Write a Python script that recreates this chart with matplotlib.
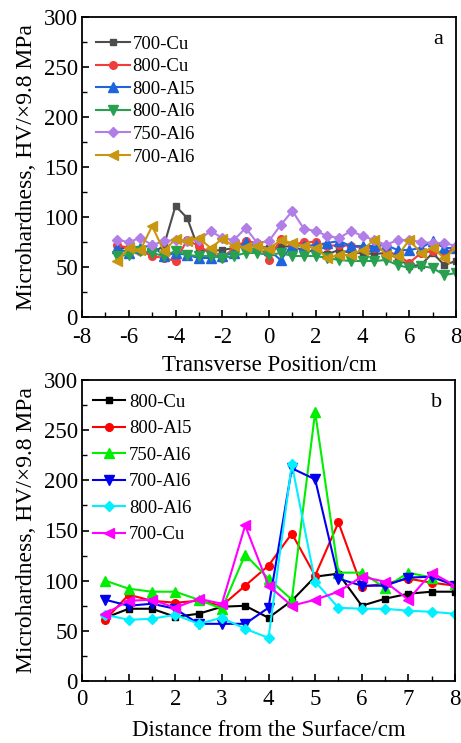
import matplotlib
matplotlib.use("Agg")
import matplotlib.pyplot as plt
from matplotlib.ticker import MultipleLocator

plt.rcParams['font.family'] = ['Liberation Serif', 'DejaVu Serif']
plt.rcParams['axes.unicode_minus'] = False

# ---- panel a data ----
x_a = [-6.5, -6, -5.5, -5, -4.5, -4, -3.5, -3, -2.5, -2, -1.5, -1, -0.5, 0, 0.5,
       1, 1.5, 2, 2.5, 3, 3.5, 4, 4.5, 5, 5.5, 6, 6.5, 7, 7.5, 8]
a_700Cu = [69, 69, 66, 64, 71, 111, 99, 67, 66, 67, 69, 71, 71, 69, 70,
           71, 66, 66, 63, 67, 64, 64, 63, 64, 59, 51, 52, 64, 52, 56]
a_800Cu = [72, 69, 66, 61, 59, 56, 77, 71, 64, 59, 69, 76, 74, 57, 78,
           72, 75, 75, 71, 72, 71, 69, 69, 66, 62, 54, 64, 66, 64, 69]
a_800Al5 = [69, 64, 69, 72, 61, 64, 62, 59, 59, 61, 64, 75, 71, 67, 57,
            72, 71, 72, 74, 76, 71, 71, 71, 72, 67, 67, 69, 76, 69, 69]
a_800Al6 = [61, 62, 66, 64, 61, 66, 62, 61, 61, 59, 61, 64, 64, 62, 64,
            61, 61, 61, 59, 57, 56, 56, 56, 57, 52, 49, 51, 49, 42, 44]
a_750Al6 = [77, 75, 79, 72, 76, 77, 76, 77, 86, 79, 77, 89, 74, 76, 92,
            106, 88, 86, 81, 79, 86, 81, 77, 72, 77, 77, 75, 74, 74, 71]
a_700Al6 = [56, 69, 67, 91, 66, 78, 76, 79, 69, 78, 71, 70, 71, 68, 77,
            74, 71, 69, 59, 62, 62, 67, 77, 62, 61, 77, 64, 69, 59, 69]
labels_a = ['700-Cu', '800-Cu', '800-Al5', '800-Al6', '750-Al6', '700-Al6']

# ---- panel b data ----
x_b = [0.5, 1, 1.5, 2, 2.5, 3, 3.5, 4, 4.5, 5, 5.5, 6, 6.5, 7, 7.5, 8]
b_800Cu = [63, 72, 72, 64, 67, 74, 75, 63, 80, 104, 107, 75, 82, 87, 89, 89]
b_800Al5 = [61, 86, 80, 78, 80, 75, 95, 115, 147, 105, 158, 94, 97, 102, 98, 95]
b_750Al6 = [100, 92, 89, 89, 81, 72, 126, 102, 81, 268, 108, 108, 93, 108, 103, 97]
b_700Al6 = [81, 75, 77, 72, 57, 57, 57, 73, 212, 201, 102, 95, 95, 103, 104, 95]
b_800Al6 = [66, 61, 62, 66, 57, 63, 52, 43, 216, 99, 73, 72, 72, 70, 69, 67]
b_700Cu = [67, 80, 81, 73, 82, 77, 155, 95, 75, 81, 89, 104, 99, 81, 108, 95]
labels_b = ['800-Cu', '800-Al5', '750-Al6', '700-Al6', '800-Al6', '700-Cu']

W, H = 461, 743
fig = plt.figure(figsize=(W / 100, H / 100), dpi=100)

def axrect(l, t, r, b):
    return [l / W, 1 - b / H, (r - l) / W, (b - t) / H]

ax1 = fig.add_axes(axrect(82, 17, 456, 317))
ax2 = fig.add_axes(axrect(82, 380, 455, 681))

series_a = [a_700Cu, a_800Cu, a_800Al5, a_800Al6, a_750Al6, a_700Al6]
colors_a = ['#4d4d4d', '#f03c3c', '#1f64dc', '#28a050', '#b07ee6', '#c8960f']
markers = ['s', 'o', '^', 'v', 'D', '<']
msizes = [5, 5.5, 6.5, 6.5, 5, 6.5]
for ys, c, m, ms, lab in zip(series_a, colors_a, markers, msizes, labels_a):
    ax1.plot(x_a, ys, color=c, marker=m, markersize=ms, linewidth=1.5, label=lab)

series_b = [b_800Cu, b_800Al5, b_750Al6, b_700Al6, b_800Al6, b_700Cu]
colors_b = ['#000000', '#ff0000', '#00ee00', '#0000ee', '#00f0ff', '#ff00ff']
for ys, c, m, ms, lab in zip(series_b, colors_b, markers, msizes, labels_b):
    ax2.plot(x_b, ys, color=c, marker=m, markersize=ms, linewidth=1.5, label=lab)

for ax in (ax1, ax2):
    ax.set_ylim(0, 300)
    ax.yaxis.set_major_locator(MultipleLocator(50))
    ax.yaxis.set_minor_locator(MultipleLocator(25))
    ax.tick_params(which='both', direction='in', top=False, right=False,
                   labelsize=16.5)
    ax.tick_params(axis='y', which='both', pad=3)
    ax.tick_params(which='major', length=5, width=1.2)
    ax.tick_params(which='minor', length=3.5, width=1.0)
    for sp in ax.spines.values():
        sp.set_linewidth(1.3)
    ax.set_ylabel('Microhardness, HV/×9.8 MPa', fontsize=17, labelpad=5)

ax1.tick_params(axis='x', which='both', pad=7)
ax2.tick_params(axis='x', which='both', pad=6)

ax1.legend(loc='upper left', bbox_to_anchor=(0.037, 0.938), frameon=False,
           fontsize=13.5, handlelength=1.8, handletextpad=0.15,
           labelspacing=0.29, borderaxespad=0, borderpad=0)
ax2.legend(loc='upper left', bbox_to_anchor=(0.03, 0.955), frameon=False,
           fontsize=13.5, handlelength=1.7, handletextpad=0.2,
           labelspacing=0.5, borderaxespad=0, borderpad=0)

ax1.set_xlim(-8, 8)
ax1.xaxis.set_major_locator(MultipleLocator(2))
ax1.xaxis.set_minor_locator(MultipleLocator(1))
ax1.set_xlabel('Transverse Position/cm', fontsize=16.5, labelpad=5)
ax1.text(0.965, 0.925, 'a', transform=ax1.transAxes, fontsize=16,
         ha='right', va='center')

ax2.set_xlim(0, 8)
ax2.xaxis.set_major_locator(MultipleLocator(1))
ax2.xaxis.set_minor_locator(MultipleLocator(0.5))
ax2.set_xlabel('Distance from the Surface/cm', fontsize=16.5, labelpad=7)
ax2.text(0.965, 0.925, 'b', transform=ax2.transAxes, fontsize=16,
         ha='right', va='center')

fig.savefig('out.png', dpi=100)
